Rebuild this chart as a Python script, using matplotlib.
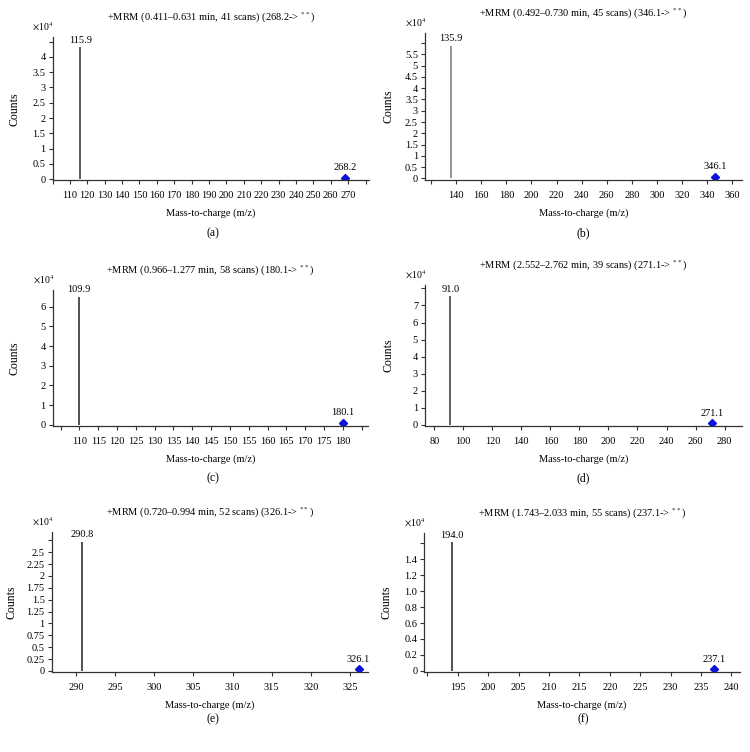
import matplotlib
matplotlib.use("Agg")
import matplotlib.pyplot as plt
import numpy as np

plt.rcParams['font.family'] = ['Liberation Serif', 'DejaVu Serif']
plt.rcParams['mathtext.fontset'] = 'stix'

# ---- data ----
titles = [
    "+MRM (0.411\u20130.631 min, 41 scans) (268.2-> $^{**}$)",
    "+MRM (0.492\u20130.730 min, 45 scans) (346.1-> $^{**}$)",
    "+MRM (0.966\u20131.277 min, 58 scans) (180.1-> $^{**}$)",
    "+MRM (2.552\u20132.762 min, 39 scans) (271.1-> $^{**}$)",
    "+MRM (0.720\u20130.994 min, 52 scans) (326.1-> $^{**}$)",
    "+MRM (1.743\u20132.033 min, 55 scans) (237.1-> $^{**}$)",
]
panel_letters = ["(a)", "(b)", "(c)", "(d)", "(e)", "(f)"]
fragment_mz = [115.9, 135.9, 109.9, 91.0, 290.8, 194.0]
fragment_counts = [4.31, 5.87, 6.50, 7.53, 2.71, 1.61]   # x10^4
precursor_mz = [268.2, 346.1, 180.1, 271.1, 326.1, 237.1]
precursor_counts = [0.05, 0.08, 0.10, 0.10, 0.035, 0.02]  # x10^4

x_ranges = [(100, 282), (115.2, 367.7), (102.9, 186.7), (73.6, 292), (286.9, 327.3), (189.5, 241.4)]
x_ticks = [np.arange(100, 281, 10), np.arange(120, 361, 20), np.arange(105, 186, 5),
           np.arange(80, 281, 20), np.arange(290, 326, 5), np.arange(190, 241, 5)]
x_labeled = [(110, 270), (140, 360), (110, 180), (80, 280), (290, 325), (195, 240)]
y_max = [4.64, 6.43, 6.84, 8.2, 2.92, 1.725]
y_ticks = [np.arange(0, 4.51, 0.5), np.arange(0, 6.01, 0.5), np.arange(0, 6.01, 1),
           np.arange(0, 8.01, 1), np.arange(0, 2.76, 0.25), np.arange(0, 1.61, 0.2)]
y_labeled_max = [4, 5.5, 6, 7, 2.5, 1.4]
y_fmt = ['g', 'g', 'g', 'g', 'g', '.1f']
line_colors = ['#333333', '#777777', '#222222', '#333333', '#222222', '#222222']

# ---- layout (pixels) ----
W, H = 750, 752
boxes = [(52.5, 369, 37.3, 180.3), (425, 742, 33.3, 179.6),
         (52.7, 368, 290, 426), (425, 742, 285, 426),
         (51.7, 368, 532.3, 672), (424.3, 740, 533.3, 672)]
ylabel_x = [20, 395, 20, 395, 18, 393]
letter_pos = [(213, 233), (583, 233), (213, 478), (583, 478), (213, 719), (583, 719)]

fig = plt.figure(figsize=(W / 100, H / 100), dpi=100)
fig.patch.set_facecolor('white')

for i in range(6):
    l, r, t, b = boxes[i]
    ax = fig.add_axes([l / W, 1 - b / H, (r - l) / W, (b - t) / H])
    ax.set_xlim(*x_ranges[i])
    ymax = y_max[i]
    ax.set_ylim(-0.008 * ymax, ymax)
    for s in ['top', 'right']:
        ax.spines[s].set_visible(False)
    for s in ['left', 'bottom']:
        ax.spines[s].set_color('#333333')
        ax.spines[s].set_linewidth(0.9)

    # peaks
    ax.vlines(fragment_mz[i], 0, fragment_counts[i], color=line_colors[i], lw=1.1)
    ax.plot([precursor_mz[i]], [precursor_counts[i]], marker='D', ms=3.8,
            color='#1010dd', mec='#1010dd', ls='none')
    ax.annotate(f"{fragment_mz[i]:.1f}", (fragment_mz[i], fragment_counts[i]),
                xytext=(0, 2), textcoords='offset points', ha='center', va='bottom',
                fontsize=7.5)
    ax.annotate(f"{precursor_mz[i]:.1f}", (precursor_mz[i], precursor_counts[i]),
                xytext=(0, 4), textcoords='offset points', ha='center', va='bottom',
                fontsize=7.5)

    # ticks
    xt = x_ticks[i]
    lo, hi = x_labeled[i]
    ax.set_xticks(xt)
    ax.set_xticklabels([f"{v:g}" if lo - 1e-6 <= v <= hi + 1e-6 else "" for v in xt])
    yt = y_ticks[i]
    ax.set_yticks(yt)
    ax.set_yticklabels([(format(v, y_fmt[i]) if v > 1e-9 else "0")
                        if v <= y_labeled_max[i] + 1e-6 else "" for v in yt])
    ax.tick_params(axis='both', direction='out', length=3, width=0.8, color='#333333',
                   labelsize=7.5, pad=2)
    ax.tick_params(axis='x', pad=5)

    ax.set_title(titles[i], fontsize=7.5, pad=12)
    ax.set_xlabel("Mass-to-charge (m/z)", fontsize=7.5, labelpad=6)
    ax.set_ylabel("Counts", fontsize=8.5)
    ax.yaxis.set_label_coords((ylabel_x[i] - l) / (r - l), 0.5)
    ax.text(-0.03, 1.03, r"$\times$10$^{4}$", transform=ax.transAxes, fontsize=7,
            ha='center', va='bottom')

    lx, ly = letter_pos[i]
    fig.text(lx / W, 1 - ly / H, panel_letters[i], ha='center', va='center', fontsize=8.5)

fig.savefig("out.png", dpi=100, facecolor='white')
